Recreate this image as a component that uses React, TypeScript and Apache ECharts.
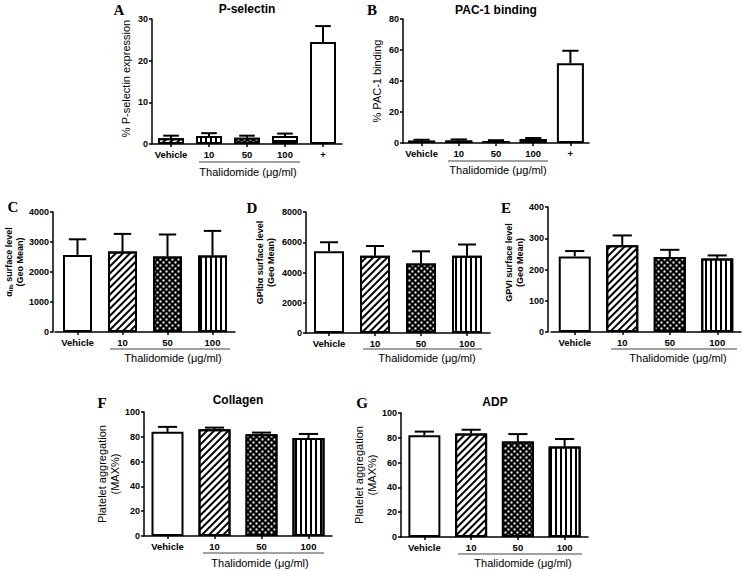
import React, { useEffect, useRef } from "react";
import * as echarts from "echarts";

// ---------------- data ----------------
const catsAB = ["Vehicle", "10", "50", "100", "+"];
const catsCG = ["Vehicle", "10", "50", "100"];

const pselMean = [1.4, 1.9, 1.5, 1.9, 24.5];
const pselErr = [2.0, 2.6, 2.0, 2.5, 28.3];
const pacMean = [1.5, 1.6, 1.3, 2.6, 51.5];
const pacErr = [2.1, 2.3, 1.8, 3.2, 59.5];
const aIIbMean = [2570, 2680, 2520, 2550];
const aIIbErr = [3090, 3270, 3250, 3370];
const gpibMean = [5400, 5100, 4600, 5100];
const gpibErr = [6000, 5750, 5400, 5850];
const gpviMean = [242, 278, 240, 235];
const gpviErr = [259, 309, 263, 245];
const collMean = [84, 86, 82, 79];
const collErr = [88, 87.4, 83.4, 82.3];
const adpMean = [82, 83.5, 77, 73];
const adpErr = [85, 86.5, 83, 79];

const groupLabel = "Thalidomide (μg/ml)";

// ---------------- styles ----------------
const FONT = "Liberation Sans, Arial, sans-serif";
const SERIF = "Liberation Serif, Times New Roman, serif";

const fills: Record<string, { color: string; decal?: any }> = {
  none: { color: "#fff" },
  diag: { color: "#fff", decal: { symbol: "rect", color: "#000", dashArrayX: [1, 0], dashArrayY: [1.5, 2.4], rotation: -Math.PI / 4, symbolSize: 1 } },
  vert: { color: "#fff", decal: { symbol: "rect", color: "#000", dashArrayX: [1.3, 2.7], dashArrayY: [1, 0], symbolSize: 1 } },
  horiz: { color: "#fff", decal: { symbol: "rect", color: "#000", dashArrayX: [1, 0], dashArrayY: [1.3, 2.2], symbolSize: 1 } },
  cross: { color: "#000", decal: { symbol: "rect", color: "#fff", dashArrayX: [[2.6, 2.6], [0, 2.6, 2.6, 0]], dashArrayY: [2.6, 0], symbolSize: 0.65 } },
};

interface Panel {
  cats: string[];
  mean: number[];
  err: number[];
  patterns: string[];
  yMax: number;
  yInterval: number;
  yName: string;
  yNameSize: number;
  yNameBold: boolean;
  nameGap: number;
  nameShift: number;
  left: number;
  top: number;
  width: number;
  height: number;
  yOffset: number;
  barW: number;
  title?: { text: string; x: number; y: number };
  letter: { text: string; x: number; y: number };
  under: { x1: number; x2: number; y: number; tx: number; ty: number };
}

const panels: Panel[] = [
  {
    cats: catsAB, mean: pselMean, err: pselErr, patterns: ["diag", "vert", "cross", "horiz", "none"],
    yMax: 30, yInterval: 10, yName: "% P-selectin expression", yNameSize: 11, yNameBold: false, nameGap: 20, nameShift: 6,
    left: 152, top: 19, width: 190, height: 125, yOffset: 0, barW: 26,
    title: { text: "P-selectin", x: 247, y: 9 }, letter: { text: "A", x: 119, y: 10 },
    under: { x1: 199, x2: 300, y: 162, tx: 248, ty: 172 },
  },
  {
    cats: catsAB, mean: pacMean, err: pacErr, patterns: ["cross", "cross", "cross", "horiz", "none"],
    yMax: 80, yInterval: 20, yName: "% PAC-1 binding", yNameSize: 11, yNameBold: false, nameGap: 20, nameShift: 0,
    left: 403, top: 19, width: 186, height: 124, yOffset: 0, barW: 27,
    title: { text: "PAC-1 binding", x: 496, y: 10 }, letter: { text: "B", x: 372, y: 10 },
    under: { x1: 448, x2: 548, y: 161, tx: 498, ty: 170 },
  },
  {
    cats: catsCG, mean: aIIbMean, err: aIIbErr, patterns: ["none", "diag", "cross", "vert"],
    yMax: 4000, yInterval: 1000, yName: "{n|α}{s|IIb}{n| surface level}\n{n|(Geo Mean)}", yNameSize: 9, yNameBold: true, nameGap: 26, nameShift: 20,
    left: 55, top: 212, width: 180, height: 120, yOffset: 2, barW: 29,
    letter: { text: "C", x: 13, y: 207 },
    under: { x1: 110, x2: 230, y: 349, tx: 173, ty: 358 },
  },
  {
    cats: catsCG, mean: gpibMean, err: gpibErr, patterns: ["none", "diag", "cross", "vert"],
    yMax: 8000, yInterval: 2000, yName: "GPIbα surface level\n(Geo Mean)", yNameSize: 9, yNameBold: true, nameGap: 30, nameShift: 20,
    left: 306, top: 212, width: 184, height: 121, yOffset: 0, barW: 30,
    letter: { text: "D", x: 252, y: 208 },
    under: { x1: 363, x2: 482, y: 349, tx: 427, ty: 358 },
  },
  {
    cats: catsCG, mean: gpviMean, err: gpviErr, patterns: ["none", "diag", "cross", "vert"],
    yMax: 400, yInterval: 100, yName: "GPVI surface level\n(Geo Mean)", yNameSize: 9, yNameBold: true, nameGap: 19, nameShift: 14,
    left: 551, top: 207, width: 190, height: 125, yOffset: 3, barW: 32,
    letter: { text: "E", x: 506, y: 208 },
    under: { x1: 611, x2: 737, y: 349, tx: 678, ty: 358 },
  },
  {
    cats: catsCG, mean: collMean, err: collErr, patterns: ["none", "diag", "cross", "vert"],
    yMax: 100, yInterval: 20, yName: "Platelet aggregation\n(MAX%)", yNameSize: 11, yNameBold: false, nameGap: 23, nameShift: 0,
    left: 144, top: 412, width: 188, height: 124, yOffset: 0, barW: 32,
    title: { text: "Collagen", x: 238, y: 400 }, letter: { text: "F", x: 102, y: 403 },
    under: { x1: 203, x2: 324, y: 553, tx: 260, ty: 563 },
  },
  {
    cats: catsCG, mean: adpMean, err: adpErr, patterns: ["none", "diag", "cross", "vert"],
    yMax: 100, yInterval: 20, yName: "Platelet aggregation\n(MAX%)", yNameSize: 11, yNameBold: false, nameGap: 22, nameShift: 0,
    left: 401, top: 413, width: 187, height: 124, yOffset: 0, barW: 32,
    title: { text: "ADP", x: 495, y: 402 }, letter: { text: "G", x: 362, y: 403 },
    under: { x1: 458, x2: 582, y: 554, tx: 523, ty: 563 },
  },
];

function buildOption() {
  const grid: any[] = [];
  const xAxis: any[] = [];
  const yAxis: any[] = [];
  const series: any[] = [];
  const graphic: any[] = [];
  const lineStyle = { color: "#000", width: 1.5 };

  panels.forEach((p, i) => {
    grid.push({ left: p.left, top: p.top, width: p.width, height: p.height, containLabel: false });
    xAxis.push({
      gridIndex: i, type: "category", data: p.cats,
      axisLine: { show: true, lineStyle },
      axisTick: { show: true, alignWithLabel: true, length: 3, lineStyle },
      axisLabel: { color: "#000", fontSize: 9.5, fontWeight: "bold", fontFamily: FONT, margin: 5, interval: 0 },
      splitLine: { show: false },
    });
    yAxis.push({
      gridIndex: i, type: "value", min: 0, max: p.yMax, interval: p.yInterval, offset: p.yOffset,
      axisLine: { show: true, lineStyle },
      axisTick: { show: true, length: 3, lineStyle },
      axisLabel: { color: "#000", fontSize: 9, fontWeight: "bold", fontFamily: FONT, margin: 4, formatter: (v: number) => String(v) },
      splitLine: { show: false },
      name: p.yName, nameLocation: "middle", nameRotate: 90, nameGap: p.nameGap,
      nameTextStyle: {
        color: "#000", fontSize: p.yNameSize, fontWeight: p.yNameBold ? "bold" : "normal", fontFamily: FONT, lineHeight: p.yNameSize + 2,
        padding: [0, 0, 0, p.nameShift],
        rich: {
          n: { color: "#000", fontSize: p.yNameSize, fontWeight: "bold", fontFamily: FONT },
          s: { color: "#000", fontSize: 6, fontWeight: "bold", fontFamily: FONT, verticalAlign: "bottom", padding: [4, 0, 0, 0] },
        },
      },
    });
    series.push({
      type: "bar", xAxisIndex: i, yAxisIndex: i, barWidth: p.barW,
      data: p.mean.map((v, j) => {
        const f = fills[p.patterns[j]];
        return { value: v, itemStyle: { color: f.color, borderColor: "#000", borderWidth: 2, decal: f.decal } };
      }),
    });
    const capW = p.barW * 0.6;
    series.push({
      type: "custom", xAxisIndex: i, yAxisIndex: i, z: 10,
      data: p.mean.map((m, j) => [j, m, p.err[j]]),
      encode: { x: 0, y: [1, 2] },
      renderItem: (params: any, api: any) => {
        const b = api.coord([api.value(0), api.value(1)]);
        const t = api.coord([api.value(0), api.value(2)]);
        const st = { stroke: "#000", lineWidth: 2 };
        return {
          type: "group",
          children: [
            { type: "line", shape: { x1: b[0], y1: b[1], x2: b[0], y2: t[1] }, style: st },
            { type: "line", shape: { x1: b[0] - capW / 2, y1: t[1], x2: b[0] + capW / 2, y2: t[1] }, style: st },
          ],
        };
      },
    });
    if (p.title) {
      graphic.push({
        type: "text", x: p.title.x, y: p.title.y,
        style: { text: p.title.text, fill: "#000", font: `bold 12px ${FONT}`, align: "center", verticalAlign: "middle" },
      });
    }
    graphic.push({
      type: "text", x: p.letter.x, y: p.letter.y,
      style: { text: p.letter.text, fill: "#000", font: `bold 15px ${SERIF}`, align: "center", verticalAlign: "middle" },
    });
    graphic.push({
      type: "line", shape: { x1: p.under.x1, y1: p.under.y, x2: p.under.x2, y2: p.under.y },
      style: { stroke: "#444", lineWidth: 1 },
    });
    graphic.push({
      type: "text", x: p.under.tx, y: p.under.ty,
      style: { text: groupLabel, fill: "#000", font: `11px ${FONT}`, align: "center", verticalAlign: "middle" },
    });
  });

  return { animation: false, backgroundColor: "#fff", grid, xAxis, yAxis, series, graphic };
}

export default function App() {
  const ref = useRef<HTMLDivElement>(null);
  useEffect(() => {
    if (!ref.current) return;
    const chart = echarts.init(ref.current, null, { renderer: "svg" });
    chart.setOption(buildOption() as any);
    return () => chart.dispose();
  }, []);
  return (
    <div
      ref={ref}
      style={{ position: "absolute", left: 0, top: 0, width: 745, height: 571, background: "#fff" }}
    />
  );
}
